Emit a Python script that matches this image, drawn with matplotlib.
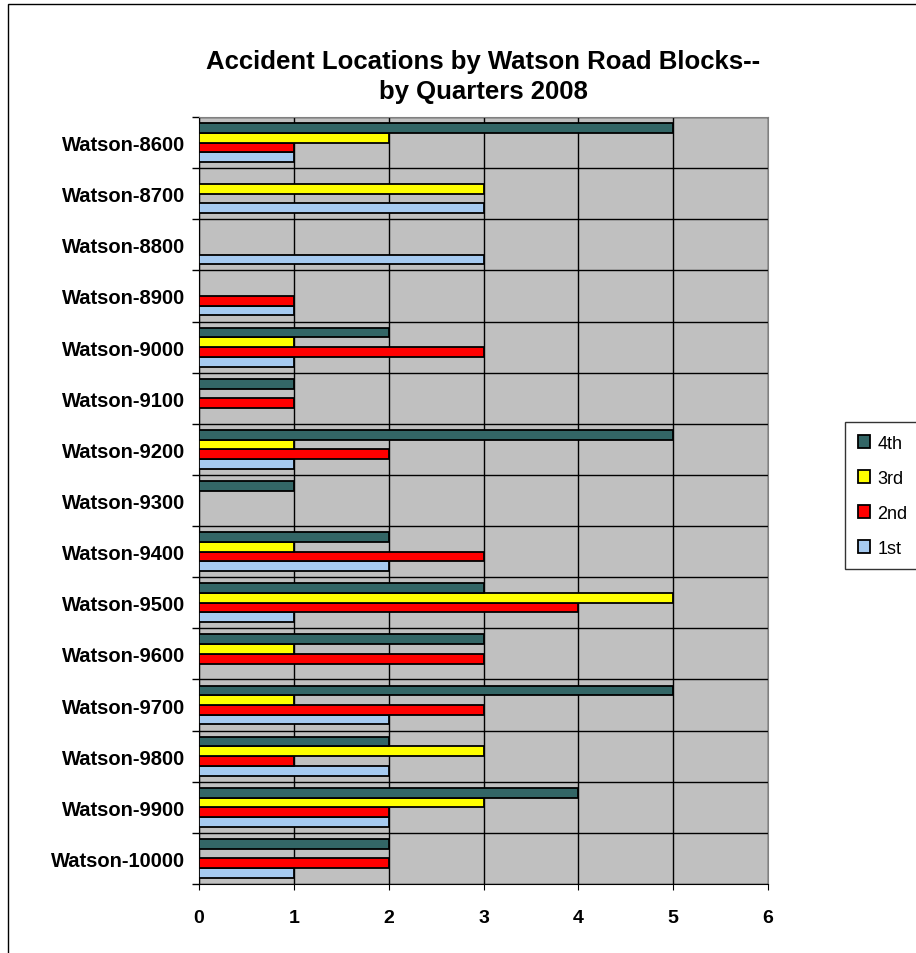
import numpy as np
import matplotlib.pyplot as plt
from matplotlib.patches import Rectangle

plt.rcParams['font.family'] = ['Liberation Sans', 'DejaVu Sans']

# Blocks listed top to bottom as in the chart
blocks = ['Watson-8600', 'Watson-8700', 'Watson-8800', 'Watson-8900', 'Watson-9000',
          'Watson-9100', 'Watson-9200', 'Watson-9300', 'Watson-9400', 'Watson-9500',
          'Watson-9600', 'Watson-9700', 'Watson-9800', 'Watson-9900', 'Watson-10000']
q1 = [1, 3, 3, 1, 1, 0, 1, 0, 2, 1, 0, 2, 2, 2, 1]
q2 = [1, 0, 0, 1, 3, 1, 2, 0, 3, 4, 3, 3, 1, 2, 2]
q3 = [2, 3, 0, 0, 1, 0, 1, 0, 1, 5, 1, 1, 3, 3, 0]
q4 = [5, 0, 0, 0, 2, 1, 5, 1, 2, 3, 3, 5, 2, 4, 2]

series = [('1st', q1, '#A6CAF0'), ('2nd', q2, '#FF0000'),
          ('3rd', q3, '#FFFF00'), ('4th', q4, '#336666')]

fig = plt.figure(figsize=(9.16, 9.54), dpi=100)
ax = fig.add_axes([199 / 916, 1 - 885 / 954, (768 - 199) / 916, (885 - 118) / 954])
ax.set_facecolor('#C0C0C0')

n = len(blocks)
pos = np.arange(n)[::-1]
h = 0.19
handles = []
for k, (name, vals, col) in enumerate(series):
    b = ax.barh(pos + (k - 1.5) * h, vals, height=h, color=col,
                edgecolor='black', linewidth=1.3, label=name, zorder=3)
    handles.append(b)

ax.set_xlim(0, 6)
ax.set_ylim(-0.5, n - 0.5)
ax.set_xticks(range(7))
ax.set_xticklabels([str(i) for i in range(7)], fontsize=14, fontweight='bold')
ax.set_yticks(pos)
ax.set_yticklabels(blocks, fontsize=14.5, fontweight='bold')
ax.set_yticks(np.arange(n + 1) - 0.5, minor=True)
ax.tick_params(axis='y', which='major', length=0, pad=10)
ax.tick_params(axis='y', which='minor', length=5, width=1, color='black')
ax.tick_params(axis='x', length=4, color='black', pad=14)
ax.grid(axis='x', which='major', color='black', linewidth=1, zorder=1)
ax.grid(axis='y', which='minor', color='black', linewidth=1, zorder=1)
ax.set_axisbelow(True)
for s in ax.spines.values():
    s.set_color('#808080')
ax.spines['left'].set_color('black')
ax.spines['bottom'].set_color('black')

ax.set_title('Accident Locations by Watson Road Blocks--\nby Quarters 2008',
             fontsize=18.5, fontweight='bold', pad=14, linespacing=1.3)

leg = fig.legend(handles[::-1], [s[0] for s in series][::-1],
                 loc='upper left', bbox_to_anchor=(836 / 916, 1 - 414 / 954),
                 fontsize=13, frameon=True, fancybox=False, edgecolor='black',
                 handlelength=0.7, handleheight=0.7, handletextpad=0.4,
                 labelspacing=1.0, borderpad=0.7)
leg.get_frame().set_linewidth(1)

# outer chart border
fig.patches.append(Rectangle((8 / 916, -0.05), 1.2, 1 - 5 / 954 + 0.05,
                             transform=fig.transFigure, fill=False,
                             edgecolor='black', linewidth=1))

fig.savefig('out.png', dpi=100)
